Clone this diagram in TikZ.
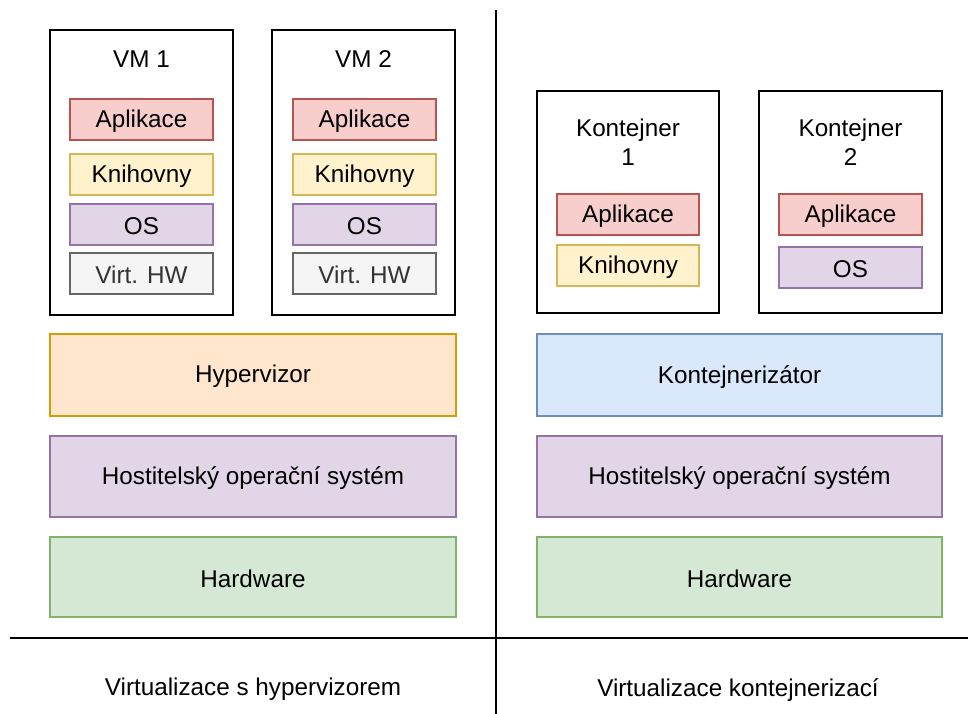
\documentclass[tikz,border=0pt]{standalone}
\usepackage{fontspec}
\setmainfont{Liberation Sans}
\definecolor{redF}{HTML}{F8CECC}\definecolor{redS}{HTML}{B85450}
\definecolor{yelF}{HTML}{FFF2CC}\definecolor{yelS}{HTML}{D6B656}
\definecolor{purF}{HTML}{E1D5E7}\definecolor{purS}{HTML}{9673A6}
\definecolor{gryF}{HTML}{F5F5F5}\definecolor{gryS}{HTML}{666666}\definecolor{gryT}{HTML}{333333}
\definecolor{orgF}{HTML}{FFE6CC}\definecolor{orgS}{HTML}{D79B00}
\definecolor{bluF}{HTML}{DAE8FC}\definecolor{bluS}{HTML}{6C8EBF}
\definecolor{grnF}{HTML}{D5E8D4}\definecolor{grnS}{HTML}{82B366}
\tikzset{
  px/.style={x=0.75pt,y=-0.75pt},
  lbl/.style={font=\fontsize{18.2}{21}\selectfont, text=black},
  inlbl/.style={lbl, yshift=-1.2pt},
  frame/.style={draw=black, line width=1.5pt, fill=white},
  layer/.style={line width=1.5pt},
  redbox/.style={layer, draw=redS, fill=redF},
  yelbox/.style={layer, draw=yelS, fill=yelF},
  purbox/.style={layer, draw=purS, fill=purF},
  grybox/.style={layer, draw=gryS, fill=gryF},
  orgbox/.style={layer, draw=orgS, fill=orgF},
  blubox/.style={layer, draw=bluS, fill=bluF},
  grnbox/.style={layer, draw=grnS, fill=grnF},
  sep/.style={draw=black, line width=1.5pt}
}
\newcommand{\boxat}[6]{% style, name, x1,y1,x2,y2
  \path[#1] (#3,#4) rectangle (#5,#6);
  \coordinate (#2) at ({(#3+#5)/2},{(#4+#6)/2});
}
\begin{document}
\begin{tikzpicture}[px]
\useasboundingbox[fill=white] (0,0) rectangle (968,714);
% separators
\coordinate (vtop) at (496,10);
\coordinate (vbot) at (496,714);
\coordinate (hl) at (10,638);
\coordinate (hr) at (968,638);
\draw[sep] (vtop) -- (vbot);
\draw[sep] (hl) -- (hr);
% VM frames
\boxat{frame}{vm1}{50}{30}{233}{315}
\boxat{frame}{vm2}{272}{30}{455}{315}
\node[lbl] (vm1t) at (141.5,59) {VM 1};
\node[lbl] (vm2t) at (363.5,59) {VM 2};
% VM1 inner
\boxat{redbox}{a1}{70}{99}{213}{140}
\boxat{yelbox}{k1}{70}{154}{213}{195}
\boxat{purbox}{o1}{70}{204}{213}{245}
\boxat{grybox}{h1}{70}{253}{213}{294}
\node[inlbl] (a1t) at (a1) {Aplikace};
\node[inlbl] (k1t) at (k1) {Knihovny};
\node[inlbl] (o1t) at (o1) {OS};
\node[inlbl, text=gryT] (h1t) at (h1) {Virt. HW};
% VM2 inner
\boxat{redbox}{a2}{293}{99}{436}{140}
\boxat{yelbox}{k2}{293}{154}{436}{195}
\boxat{purbox}{o2}{293}{204}{436}{245}
\boxat{grybox}{h2}{293}{253}{436}{294}
\node[inlbl] (a2t) at (a2) {Aplikace};
\node[inlbl] (k2t) at (k2) {Knihovny};
\node[inlbl] (o2t) at (o2) {OS};
\node[inlbl, text=gryT] (h2t) at (h2) {Virt. HW};
% container frames
\boxat{frame}{c1}{537}{91}{719}{313}
\boxat{frame}{c2}{759}{91}{942}{313}
\node[lbl, align=center] (c1t) at (628,142) {Kontejner\\[1pt]1};
\node[lbl, align=center] (c2t) at (850.5,142) {Kontejner\\[1pt]2};
\boxat{redbox}{ca1}{557}{194}{699}{235}
\boxat{yelbox}{ck1}{557}{245}{699}{286}
\boxat{redbox}{ca2}{779}{194}{922}{235}
\boxat{purbox}{co2}{779}{247}{922}{288}
\node[inlbl] (ca1t) at (ca1) {Aplikace};
\node[inlbl] (ck1t) at (ck1) {Knihovny};
\node[inlbl] (ca2t) at (ca2) {Aplikace};
\node[inlbl] (co2t) at (co2) {OS};
% layers left
\boxat{orgbox}{hyp}{50}{334}{456}{416}
\boxat{purbox}{hos1}{50}{436}{456}{517}
\boxat{grnbox}{hw1}{50}{537}{456}{617}
\node[inlbl] (hypt) at (hyp) {Hypervizor};
\node[inlbl] (hos1t) at (hos1) {Hostitelský operační systém};
\node[inlbl] (hw1t) at (hw1) {Hardware};
% layers right
\boxat{blubox}{kon}{537}{334}{942}{416}
\boxat{purbox}{hos2}{537}{436}{942}{517}
\boxat{grnbox}{hw2}{537}{537}{942}{617}
\node[inlbl] (kont) at (kon) {Kontejnerizátor};
\node[inlbl] (hos2t) at (hos2) {Hostitelský operační systém};
\node[inlbl] (hw2t) at (hw2) {Hardware};
% captions
\node[inlbl] (cap1) at (253,688) {Virtualizace s hypervizorem};
\node[inlbl] (cap2) at (738,688) {Virtualizace kontejnerizací};
\end{tikzpicture}
\end{document}
